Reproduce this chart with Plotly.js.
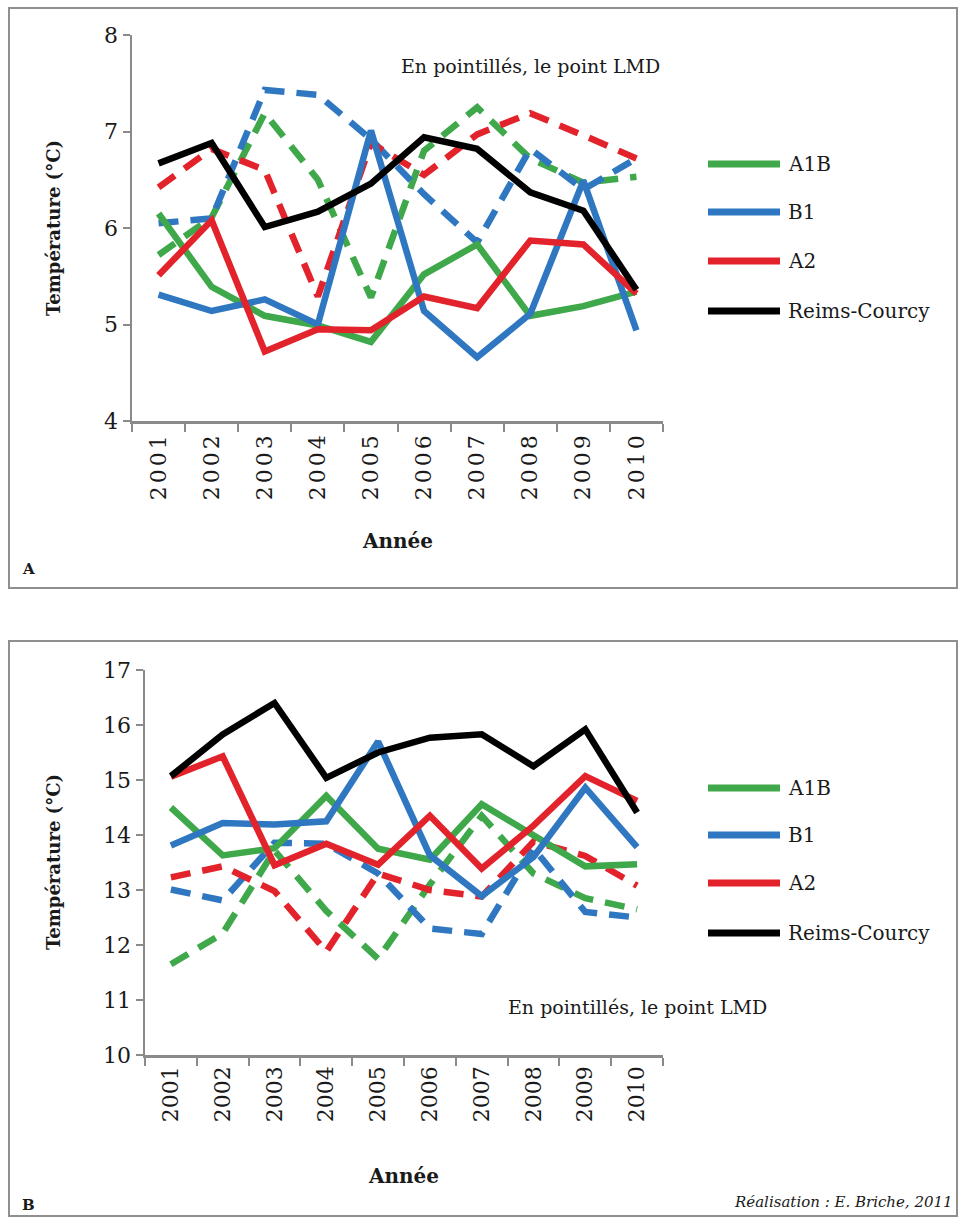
<!DOCTYPE html>
<html>
<head>
<meta charset="utf-8">
<script src="https://cdn.plot.ly/plotly-3.0.1.min.js"></script>
<style>
html, body { margin: 0; padding: 0; background: #fff; }
#chart { width: 966px; height: 1218px; }
.xtick text { letter-spacing: 3px; }
</style>
</head>
<body>
<div id="chart"></div>
<script>
// ---------- data ----------
const years = ['2001','2002','2003','2004','2005','2006','2007','2008','2009','2010'];
const seriesNames = ['A1B', 'B1', 'A2', 'Reims-Courcy'];

// Panel A (top)
const a_A1B   = [6.15, 5.39, 5.09, 4.99, 4.82, 5.52, 5.83, 5.09, 5.19, 5.34];
const a_B1    = [5.31, 5.14, 5.26, 5.00, 7.01, 5.14, 4.66, 5.11, 6.49, 4.94];
const a_A2    = [5.51, 6.08, 4.72, 4.95, 4.94, 5.29, 5.17, 5.87, 5.83, 5.32];
const a_Reims = [6.67, 6.88, 6.01, 6.17, 6.46, 6.94, 6.82, 6.37, 6.18, 5.36];
const a_A1B_LMD = [5.72, 6.11, 7.19, 6.50, 5.28, 6.80, 7.25, 6.72, 6.47, 6.53];
const a_B1_LMD  = [6.05, 6.10, 7.43, 7.38, 6.92, 6.35, 5.85, 6.82, 6.40, 6.72];
const a_A2_LMD  = [6.42, 6.82, 6.60, 5.29, 6.88, 6.55, 6.97, 7.19, 6.96, 6.72];

// Panel B (bottom)
const b_A1B   = [14.50, 13.63, 13.76, 14.71, 13.75, 13.55, 14.56, 13.99, 13.43, 13.47];
const b_B1    = [13.81, 14.22, 14.19, 14.25, 15.70, 13.63, 12.89, 13.60, 14.86, 13.78];
const b_A2    = [15.06, 15.43, 13.45, 13.84, 13.46, 14.35, 13.39, 14.17, 15.07, 14.62];
const b_Reims = [15.07, 15.83, 16.40, 15.04, 15.50, 15.77, 15.83, 15.25, 15.92, 14.41];
const b_A1B_LMD = [11.65, 12.21, 13.72, 12.62, 11.75, 13.10, 14.35, 13.30, 12.85, 12.65];
const b_B1_LMD  = [13.01, 12.81, 13.86, 13.84, 13.30, 12.30, 12.20, 13.76, 12.60, 12.50];
const b_A2_LMD  = [13.23, 13.43, 12.98, 11.88, 13.30, 13.00, 12.88, 13.88, 13.62, 13.08];

const yTicksA = [4, 5, 6, 7, 8];
const yTicksB = [10, 11, 12, 13, 14, 15, 16, 17];

// ---------- style ----------
const COLORS = ['#3fa84a', '#2f78c1', '#e3232b', '#000000'];
const FONT = 'DejaVu Serif';
const W = 966, H = 1218;
const px = v => v / W;
const py = v => 1 - v / H;
const LW = 6.5;
const DASH = '20px,12px';

function panelTraces(xa, ya, solids, dashed) {
  const t = [];
  dashed.forEach((ys, i) => t.push({
    x: years, y: ys, xaxis: xa, yaxis: ya, type: 'scatter', mode: 'lines',
    name: seriesNames[i] + ' (LMD)', showlegend: false, hoverinfo: 'skip',
    line: {color: COLORS[i], width: LW, dash: DASH}
  }));
  solids.forEach((ys, i) => t.push({
    x: years, y: ys, xaxis: xa, yaxis: ya, type: 'scatter', mode: 'lines',
    name: seriesNames[i], showlegend: false, hoverinfo: 'skip',
    line: {color: COLORS[i], width: LW}
  }));
  return t;
}

const data = [
  ...panelTraces('x', 'y', [a_A1B, a_B1, a_A2, a_Reims], [a_A1B_LMD, a_B1_LMD, a_A2_LMD]),
  ...panelTraces('x2', 'y2', [b_A1B, b_B1, b_A2, b_Reims], [b_A1B_LMD, b_B1_LMD, b_A2_LMD])
];

const axisCol = '#8a8a8a';
function xAxis(domain, anchor) {
  return {
    domain: domain, anchor: anchor, type: 'category', range: [-0.5, 9.5],
    tickson: 'boundaries', ticks: 'outside', ticklen: 8, tickwidth: 2, tickcolor: axisCol,
    showline: true, linecolor: axisCol, linewidth: 2.5, showgrid: false, zeroline: false,
    tickangle: -90, tickfont: {family: FONT, size: 22, color: '#1a1a1a'}, fixedrange: true
  };
}
function yAxis(domain, anchor, range, ticks) {
  return {
    domain: domain, anchor: anchor, range: range, tickvals: ticks,
    ticks: 'outside', ticklen: 7, tickwidth: 2, tickcolor: axisCol,
    showline: true, linecolor: axisCol, linewidth: 2.5, showgrid: false, zeroline: false,
    tickfont: {family: FONT, size: 22, color: '#1a1a1a'}, fixedrange: true
  };
}

const annotations = [];
const shapes = [];
function txt(text, x, y, opts) {
  annotations.push(Object.assign({
    text: text, x: px(x), y: py(y), xref: 'paper', yref: 'paper', showarrow: false,
    xanchor: 'center', yanchor: 'middle',
    font: {family: FONT, size: 20, color: '#1a1a1a'}
  }, opts || {}));
}

// frames
shapes.push({type: 'rect', xref: 'paper', yref: 'paper', x0: px(9), x1: px(957), y0: py(8), y1: py(588), line: {color: '#8f8f8f', width: 2}});
shapes.push({type: 'rect', xref: 'paper', yref: 'paper', x0: px(9), x1: px(957), y0: py(641), y1: py(1216), line: {color: '#8f8f8f', width: 2}});

// axis titles & notes
const boldF = {family: FONT, size: 18, color: '#1a1a1a', weight: 'bold'};
txt('Température (°C)', 53, 228, {textangle: -90, font: boldF});
txt('Année', 397, 541, {font: Object.assign({}, boldF, {size: 20})});
txt('Température (°C)', 53, 862, {textangle: -90, font: boldF});
txt('Année', 403, 1176, {font: Object.assign({}, boldF, {size: 20})});
txt('En pointillés, le point LMD', 530, 66, {font: {family: FONT, size: 19, color: '#1a1a1a'}});
txt('En pointillés, le point LMD', 637, 1007, {font: {family: FONT, size: 19, color: '#1a1a1a'}});
txt('A', 28, 569, {font: {family: FONT, size: 15, color: '#1a1a1a', weight: 'bold'}});
txt('B', 28, 1205, {font: {family: FONT, size: 15, color: '#1a1a1a', weight: 'bold'}});
txt('Réalisation : E. Briche, 2011', 955, 1202, {xanchor: 'right', font: {family: FONT, size: 15, color: '#1a1a1a', style: 'italic'}});

// legends (manual, long line samples)
function legend(ys) {
  seriesNames.forEach((n, i) => {
    shapes.push({type: 'line', xref: 'paper', yref: 'paper', x0: px(708), x1: px(780), y0: py(ys[i]), y1: py(ys[i]), line: {color: COLORS[i], width: 7}});
    txt(n, 786, ys[i], {xanchor: 'left', font: {family: FONT, size: 20, color: '#1a1a1a'}});
  });
}
legend([164, 212, 261, 311]);
legend([788, 835, 883, 933]);

const layout = {
  width: W, height: H, margin: {l: 0, r: 0, t: 0, b: 0},
  paper_bgcolor: '#ffffff', plot_bgcolor: 'rgba(0,0,0,0)', showlegend: false,
  font: {family: FONT},
  xaxis: xAxis([px(132), px(663)], 'y'),
  yaxis: yAxis([py(421), py(35)], 'x', [4, 8], yTicksA),
  xaxis2: xAxis([px(145), px(663)], 'y2'),
  yaxis2: yAxis([py(1055), py(670)], 'x2', [10, 17], yTicksB),
  annotations: annotations, shapes: shapes
};

Plotly.newPlot('chart', data, layout, {displayModeBar: false, staticPlot: true});
</script>
</body>
</html>
